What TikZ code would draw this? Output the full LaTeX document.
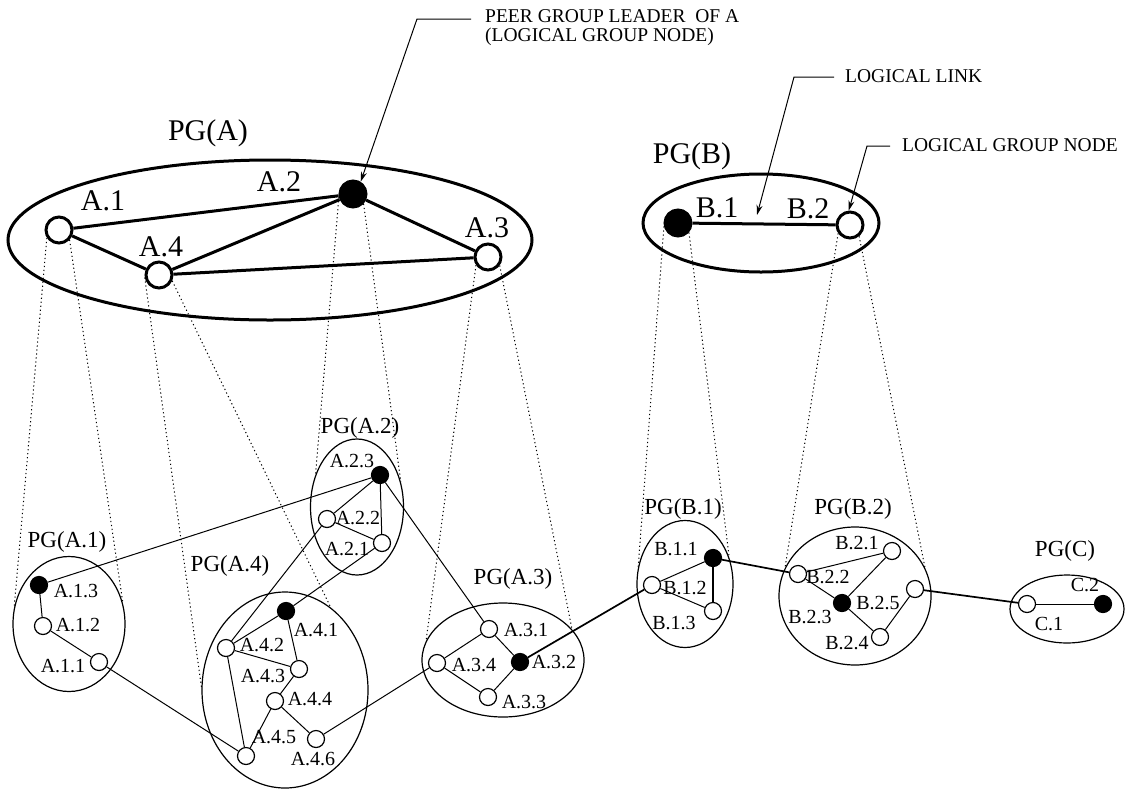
\documentclass[tikz,border=0pt]{standalone}
\usepackage{fontspec}
\setmainfont{Liberation Serif}
\usetikzlibrary{positioning}
\usetikzlibrary{shapes.geometric}
\usetikzlibrary{arrows.meta}

\begin{document}
\begin{tikzpicture}[x=1pt,y=-1pt,
    wnode/.style={circle,draw,fill=white,line width=1.2pt,minimum size=17pt,inner sep=0pt},
    bnode/.style={wnode,fill=black},
    topw/.style={circle,draw,fill=white,line width=3pt,minimum size=26pt,inner sep=0pt},
    topb/.style={topw,fill=black},
    grp/.style={ellipse,draw,line width=1.2pt,inner sep=0pt},
    topgrp/.style={ellipse,draw,line width=3pt,inner sep=0pt},
    proj/.style={line width=1pt,dash pattern=on 1.2pt off 2.8pt},
    tlink/.style={line width=3pt},
    link/.style={line width=1pt},
    blink/.style={line width=1.7pt},
    arr/.style={line width=1pt,-{Stealth[length=10pt,width=6pt]}},
    lbl/.style={font=\fontsize{20}{22}\selectfont,inner sep=0pt},
    glbl/.style={font=\fontsize{23}{25}\selectfont,inner sep=0pt},
    toplbl/.style={font=\fontsize{30}{32}\selectfont,inner sep=0pt},
    note/.style={font=\fontsize{19.5}{19}\selectfont,inner sep=0pt,align=left}]
  \useasboundingbox (0,0) rectangle (1131,790);

  % PG(A) en haut
  \node[topgrp,minimum width=524pt,minimum height=160pt] (pga) at (270,240) {};
  \node[toplbl] (pgalbl) at (208,133) {PG(A)};
  \node[topw] (a1) at (59,230) {};
  \node[topb] (a2) at (353,194) {};
  \node[topw] (a3) at (488,257) {};
  \node[topw] (a4) at (159,275) {};
  \node[toplbl] (la1) at (103,201) {A.1};
  \node[toplbl] (la2) at (279,182) {A.2};
  \node[toplbl] (la3) at (487,228) {A.3};
  \node[toplbl] (la4) at (161,247) {A.4};
  \foreach \u/\v in {a1/a2, a1/a4, a4/a2, a2/a3, a4/a3}
    \draw[tlink] (\u) -- (\v);

  % PG(B) en haut
  \node[topgrp,minimum width=236pt,minimum height=98pt] (pgb) at (761,223) {};
  \node[toplbl] (pgblbl) at (692,156) {PG(B)};
  \node[topb] (b1) at (678,223) {};
  \node[topw] (b2) at (850,225) {};
  \node[toplbl] (lb1) at (717,208) {B.1};
  \node[toplbl] (lb2) at (808,209) {B.2};
  \draw[tlink] (b1) -- (b2);

  % commentaires
  \node[note,anchor=north west] (peer) at (485,9) {PEER GROUP LEADER\ \ OF A\\(LOGICAL GROUP NODE)};
  \coordinate (peerend) at (471,19);
  \coordinate (peerbend) at (417,19);
  \draw[arr] (peerend) -- (peerbend) -- (a2.58);

  \node[note,anchor=west] (lltxt) at (845,76) {LOGICAL LINK};
  \coordinate (llend) at (834,77);
  \coordinate (llbend) at (794,77);
  \coordinate (lltip) at (757,215);
  \draw[arr] (llend) -- (llbend) -- (lltip);

  \node[note,anchor=west] (lgntxt) at (902,145) {LOGICAL GROUP NODE};
  \coordinate (lgnend) at (890,146);
  \coordinate (lgnbend) at (867,146);
  \draw[arr] (lgnend) -- (lgnbend) -- (b2.95);

  % PG(A.1)
  \node[grp,minimum width=112pt,minimum height=135pt] (pga1) at (69,624) {};
  \node[glbl] (pga1lbl) at (67,542) {PG(A.1)};
  \node[bnode] (a13) at (39,585) {};
  \node[wnode] (a12) at (43,626) {};
  \node[wnode] (a11) at (99,662) {};
  \node[lbl] (la13) at (76,591) {A.1.3};
  \node[lbl] (la12) at (78,625) {A.1.2};
  \node[lbl] (la11) at (63,666) {A.1.1};

  % PG(A.4)
  \node[grp,minimum width=166pt,minimum height=196pt] (pga4) at (285,690) {};
  \node[glbl] (pga4lbl) at (230,566) {PG(A.4)};
  \node[bnode] (a41) at (286,611) {};
  \node[wnode] (a42) at (226,648) {};
  \node[wnode] (a43) at (299,669) {};
  \node[wnode] (a44) at (275,701) {};
  \node[wnode] (a45) at (246,756) {};
  \node[wnode] (a46) at (316,739) {};
  \node[lbl] (la41) at (316,630) {A.4.1};
  \node[lbl] (la42) at (262,645) {A.4.2};
  \node[lbl] (la43) at (263,676) {A.4.3};
  \node[lbl] (la44) at (310,699) {A.4.4};
  \node[lbl] (la45) at (274,737) {A.4.5};
  \node[lbl] (la46) at (313,759) {A.4.6};

  % PG(A.2)
  \node[grp,minimum width=93pt,minimum height=136pt] (pga2) at (357,507) {};
  \node[glbl] (pga2lbl) at (360,428) {PG(A.2)};
  \node[bnode] (a23) at (380,475) {};
  \node[wnode] (a22) at (327,519) {};
  \node[wnode] (a21) at (382,543) {};
  \node[lbl] (la23) at (352,461) {A.2.3};
  \node[lbl] (la22) at (358,518) {A.2.2};
  \node[lbl] (la21) at (347,549) {A.2.1};

  % PG(A.3)
  \node[grp,minimum width=162pt,minimum height=114pt] (pga3) at (503,660) {};
  \node[glbl] (pga3lbl) at (513,579) {PG(A.3)};
  \node[wnode] (a31) at (489,629) {};
  \node[bnode] (a32) at (520,662) {};
  \node[wnode] (a33) at (488,697) {};
  \node[wnode] (a34) at (437,663) {};
  \node[lbl] (la31) at (526,630) {A.3.1};
  \node[lbl] (la32) at (554,662) {A.3.2};
  \node[lbl] (la33) at (524,702) {A.3.3};
  \node[lbl] (la34) at (474,665) {A.3.4};

  % PG(B.1)
  \node[grp,minimum width=96pt,minimum height=127pt] (pgb1) at (685,584) {};
  \node[glbl] (pgb1lbl) at (683,509) {PG(B.1)};
  \node[bnode] (b11) at (713,558) {};
  \node[wnode] (b12) at (652,585) {};
  \node[wnode] (b13) at (713,611) {};
  \node[lbl] (lb11) at (676,549) {B.1.1};
  \node[lbl] (lb12) at (685,588) {B.1.2};
  \node[lbl] (lb13) at (674,623) {B.1.3};

  % PG(B.2)
  \node[grp,minimum width=152pt,minimum height=138pt] (pgb2) at (855,596) {};
  \node[glbl] (pgb2lbl) at (853,509) {PG(B.2)};
  \node[wnode] (b21) at (892,551) {};
  \node[wnode] (b22) at (798,574) {};
  \node[bnode] (b23) at (842,603) {};
  \node[wnode] (b24) at (880,637) {};
  \node[wnode] (b25) at (915,589) {};
  \node[lbl] (lb21) at (857,543) {B.2.1};
  \node[lbl] (lb22) at (828,577) {B.2.2};
  \node[lbl] (lb23) at (810,617) {B.2.3};
  \node[lbl] (lb24) at (847,643) {B.2.4};
  \node[lbl] (lb25) at (878,603) {B.2.5};

  % PG(C)
  \node[grp,minimum width=114pt,minimum height=68pt] (pgc) at (1067,609) {};
  \node[glbl] (pgclbl) at (1065,551) {PG(C)};
  \node[wnode] (c1) at (1027,604) {};
  \node[bnode] (c2) at (1103,604) {};
  \node[lbl] (lc1) at (1049,624) {C.1};
  \node[lbl] (lc2) at (1085,585) {C.2};

  % liens internes
  \foreach \u/\v in {a13/a12, a12/a11, a23/a22, a23/a21, a22/a21,
      a41/a42, a41/a43, a42/a43, a42/a45, a43/a44, a44/a45, a44/a46,
      a31/a34, a31/a32, a34/a33, a32/a33, b11/b12, b12/b13,
      b22/b21, b22/b23, b23/b21, b23/b24, b24/b25, c1/c2}
    \draw[link] (\u) -- (\v);
  \draw[blink] (b11) -- (b13);

  % liens entre groupes
  \foreach \u/\v in {a13/a23, a11/a45, a22/a42, a21/a41, a23/a31, a46/a34}
    \draw[link] (\u) -- (\v);
  \foreach \u/\v in {a32/b12, b11/b22, b25/c1}
    \draw[blink] (\u) -- (\v);

  % projections
  \draw[proj] (a1.213) -- (pga1.163);
  \draw[proj] (a1.317) -- (pga1.21);
  \draw[proj] (a4.190) -- (pga4.178);
  \draw[proj] (a4.336) -- (pga4.61);
  \draw[proj] (a2.193) -- (pga2.142);
  \draw[proj] (a2.317) -- (pga2.30);
  \draw[proj] (a3.214) -- (pga3.166);
  \draw[proj] (a3.324) -- (pga3.24);
  \draw[proj] (b1.194) -- (pgb1.160);
  \draw[proj] (b1.319) -- (pgb1.31);
  \draw[proj] (b2.215) -- (pgb2.158);
  \draw[proj] (b2.309) -- (pgb2.22);
\end{tikzpicture}
\end{document}
